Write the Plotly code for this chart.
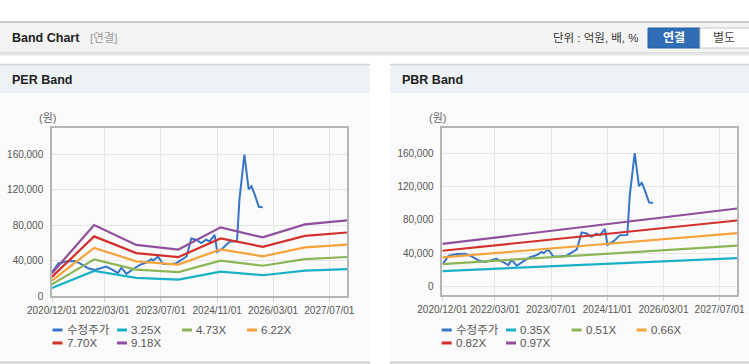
import plotly.graph_objects as go

W, H = 749, 364


def px(x):
    return x / W


def py(y):
    return 1 - y / H


# ---------------- data ----------------
band_dates = ["2020-12-01", "2021-12-01", "2022-12-01", "2023-12-01",
              "2024-12-01", "2025-12-01", "2026-12-01", "2027-12-01"]

per_names = ["3.25X", "4.73X", "6.22X", "7.70X", "9.18X"]
per_325 = [9100, 28400, 20500, 18600, 27500, 23500, 28700, 30300]
per_473 = [13300, 41400, 29800, 27100, 40000, 34200, 41700, 44100]
per_622 = [17500, 54400, 39200, 35600, 52600, 44900, 54900, 58000]
per_770 = [21600, 67400, 48500, 44000, 65100, 55600, 67900, 71800]
per_918 = [25800, 80300, 57800, 52500, 77600, 66300, 81000, 85600]
per_bands = [per_325, per_473, per_622, per_770, per_918]

pbr_dates = ["2020-12-01", "2027-12-01"]
pbr_names = ["0.35X", "0.51X", "0.66X", "0.82X", "0.97X"]
pbr_035 = [18600, 34200]
pbr_051 = [27000, 49200]
pbr_066 = [35000, 64200]
pbr_082 = [43000, 79200]
pbr_097 = [51200, 93600]
pbr_bands = [pbr_035, pbr_051, pbr_066, pbr_082, pbr_097]

price_name = "수정주가"
price_dates = ["2020-12-07", "2021-01-25", "2021-04-07", "2021-06-15", "2021-08-01",
               "2021-10-10", "2021-12-07", "2022-02-03", "2022-03-15", "2022-05-12",
               "2022-06-25", "2022-07-25", "2022-09-07", "2022-11-03", "2023-01-01",
               "2023-02-28", "2023-04-10", "2023-04-28", "2023-06-07", "2023-07-19",
               "2023-09-15", "2023-11-13", "2023-12-25", "2024-02-10", "2024-03-22",
               "2024-05-04", "2024-06-15", "2024-07-28", "2024-08-28", "2024-10-10",
               "2024-11-01", "2024-12-22", "2025-02-18", "2025-04-22", "2025-05-13",
               "2025-06-25", "2025-08-01", "2025-08-25", "2025-09-22", "2025-10-28",
               "2025-12-01"]
price_values = [27600, 37000, 39000, 39500, 37000,
                31400, 29500, 32200, 33300, 29500,
                25800, 32000, 25000, 30300, 35200,
                37900, 41700, 40200, 44700, 36400,
                36000, 37100, 40900, 44700, 65000,
                63600, 59800, 63600, 61700, 69200,
                50000, 54200, 61700, 62000, 109000,
                160000, 120500, 124200, 115000, 100800,
                100400]

tick_dates = ["2020-12-01", "2022-03-01", "2023-07-01", "2024-11-01", "2026-03-01", "2027-07-01"]
tick_text = ["2020/12/01", "2022/03/01", "2023/07/01", "2024/11/01", "2026/03/01", "2027/07/01"]
y_ticks = [0, 40000, 80000, 120000, 160000]
y_text = ["0", "40,000", "80,000", "120,000", "160,000"]

price_color = "#3675c8"
band_colors = ["#18b1c6", "#8db555", "#f5a33a", "#d3302c", "#8f4f9c"]

FONT = "Liberation Sans, Arial, Noto Sans CJK KR, sans-serif"

# ---------------- figure ----------------
fig = go.Figure()

fig.add_trace(go.Scatter(x=price_dates, y=price_values, name=price_name, mode="lines",
                         line=dict(color=price_color, width=2), xaxis="x", yaxis="y",
                         showlegend=False))
for name, vals, col in zip(per_names, per_bands, band_colors):
    fig.add_trace(go.Scatter(x=band_dates, y=vals, name=name, mode="lines",
                             line=dict(color=col, width=2.2), xaxis="x", yaxis="y",
                             showlegend=False))

fig.add_trace(go.Scatter(x=price_dates, y=price_values, name=price_name, mode="lines",
                         line=dict(color=price_color, width=2), xaxis="x2", yaxis="y2",
                         showlegend=False))
for name, vals, col in zip(pbr_names, pbr_bands, band_colors):
    fig.add_trace(go.Scatter(x=pbr_dates, y=vals, name=name, mode="lines",
                             line=dict(color=col, width=2.2), xaxis="x2", yaxis="y2",
                             showlegend=False))

axis_common_x = dict(type="date", range=["2020-12-01", "2027-12-01"],
                     tickvals=tick_dates, ticktext=tick_text, tickangle=0,
                     showgrid=True, gridcolor="#e6e6e6", gridwidth=1,
                     showline=True, linecolor="#b5b5b5", linewidth=1.5, mirror=True,
                     ticks="outside", ticklen=4, tickcolor="#d0d0d0",
                     tickfont=dict(size=10, color="#555555", family=FONT),
                     zeroline=False, fixedrange=True, automargin=False)
axis_common_y = dict(tickvals=y_ticks, ticktext=y_text,
                     showgrid=True, gridcolor="#e6e6e6", gridwidth=1,
                     showline=True, linecolor="#b5b5b5", linewidth=1.5, mirror=True,
                     ticks="", ticklabelstandoff=5,
                     tickfont=dict(size=10, color="#555555", family=FONT),
                     zeroline=False, fixedrange=True, automargin=False)

fig.update_layout(
    template="none",
    width=W, height=H, autosize=False,
    margin=dict(l=0, r=0, t=0, b=0, pad=0, autoexpand=False),
    paper_bgcolor="#ffffff", plot_bgcolor="#ffffff",
    font=dict(family=FONT, size=11, color="#444444"),
    showlegend=False,
    xaxis=dict(domain=[px(52), px(347)], anchor="y", **axis_common_x),
    yaxis=dict(domain=[py(296), py(128)], anchor="x", range=[0, 190000], **axis_common_y),
    xaxis2=dict(domain=[px(442.3), px(737.3)], anchor="y2", **axis_common_x),
    yaxis2=dict(domain=[py(295), py(128)], anchor="x2", range=[-10000, 190000], **axis_common_y),
)

shapes = []
annots = []


def rect(x0, y0, x1, y1, fill, line_color=None, lw=0):
    shapes.append(dict(type="rect", xref="paper", yref="paper",
                       x0=px(x0), x1=px(x1), y0=py(y1), y1=py(y0),
                       fillcolor=fill, layer="below",
                       line=dict(width=lw, color=line_color or fill)))


def hline(x0, x1, y, color, lw=1):
    shapes.append(dict(type="line", xref="paper", yref="paper",
                       x0=px(x0), x1=px(x1), y0=py(y), y1=py(y),
                       layer="below", line=dict(color=color, width=lw)))


def text(x, y, s, size=11, color="#444444", anchor="left", family=FONT):
    annots.append(dict(xref="paper", yref="paper", x=px(x), y=py(y), text=s,
                       showarrow=False, xanchor=anchor, yanchor="middle",
                       font=dict(size=size, color=color, family=family)))


# header bar
rect(0, 22, 749, 53, "#f3f3f3")
hline(0, 749, 22, "#b8b8b8", 1.5)
hline(0, 749, 53, "#c9c9c9", 1)
hline(0, 749, 54.5, "#e6e6e6", 2)
text(10, 38, "<b>Band Chart</b>", 12.5, "#222222")
text(88, 38, "[연결]", 11.5, "#9a9a9a")
text(641, 38, "단위 : 억원, 배, %", 11.5, "#333333", anchor="right")
rect(648, 28, 700, 48, "#2f6db4", "#2a62a3", 1)
rect(700, 28, 752, 48, "#ffffff", "#c8c8c8", 1)
text(674, 38, "<b>연결</b>", 12, "#ffffff", anchor="center")
text(724, 38, "별도", 12, "#444444", anchor="center")

# panels
for x0, x1, title in [(0, 370, "PER Band"), (390, 749, "PBR Band")]:
    rect(x0, 64, x1, 363, "#fbfbfb")
    rect(x0, 64, x1, 93, "#eef1f6")
    hline(x0, x1, 64.5, "#d4d4d4", 1.5)
    hline(x0, x1, 362.5, "#d0d0d0", 2)
    text(x0 + 10, 80, "<b>%s</b>" % title, 12.5, "#222222")

# unit labels
text(47.5, 118, "(원)", 11, "#666666", anchor="center")
text(437.5, 118, "(원)", 11, "#666666", anchor="center")

# custom legends
legend_cols_per = [52.5, 117, 182, 247]
legend_cols_pbr = [441.7, 506, 571.6, 636.6]
legend_rows = [330, 343]
for cols, names in [(legend_cols_per, per_names), (legend_cols_pbr, pbr_names)]:
    entries = [(price_name, price_color)] + list(zip(names, band_colors))
    for i, (nm, col) in enumerate(entries):
        cx = cols[i % 4]
        cy = legend_rows[i // 4]
        shapes.append(dict(type="line", xref="paper", yref="paper",
                           x0=px(cx), x1=px(cx + 10), y0=py(cy), y1=py(cy),
                           line=dict(color=col, width=3)))
        text(cx + 12, cy, nm, 11.5, "#555555")

fig.update_layout(shapes=shapes, annotations=annots)

fig.write_html(
    "out.html",
    config={"responsive": False, "displayModeBar": False},
    post_script="document.body.style.margin='0';document.body.style.padding='0';"
                "document.body.style.overflow='hidden';"
                "document.documentElement.style.overflow='hidden';",
)
